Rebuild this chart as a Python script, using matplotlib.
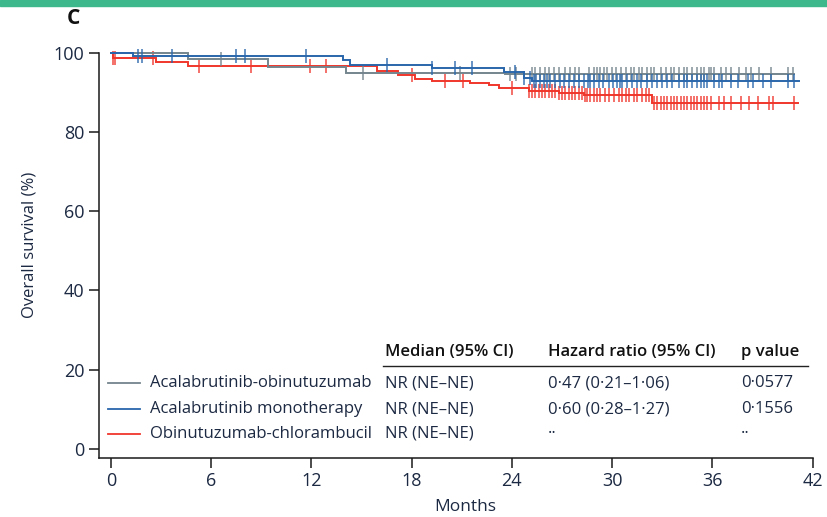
import matplotlib
matplotlib.use("Agg")
import matplotlib.pyplot as plt
from matplotlib.patches import Rectangle
from matplotlib.lines import Line2D

# Kaplan-Meier step data: (month, overall survival %)
acala_obin_t = [0, 4.6, 9.4, 14.1, 23.6, 40.9]
acala_obin_s = [100, 98.4, 96.3, 94.9, 94.6, 94.6]
acala_mono_t = [0, 1.3, 13.9, 14.3, 19.2, 23.5, 24.7, 25.2, 41.2]
acala_mono_s = [100, 99.2, 98.0, 96.9, 96.0, 95.0, 93.6, 92.9, 92.9]
obin_chl_t = [0, 0.1, 2.7, 4.6, 15.9, 17.2, 18.2, 19.2, 21.5, 22.6, 23.2, 25.0, 26.8, 28.3, 32.4, 41.1]
obin_chl_s = [100, 98.7, 97.6, 96.5, 95.3, 94.4, 93.4, 92.9, 92.3, 91.7, 91.0, 90.4, 89.8, 89.2, 87.2, 87.2]

# Censoring times (months)
acala_obin_cens = [6.6, 15.1, 20.9, 23.9, 24.25, 25.2, 25.4, 25.7, 26.0, 26.2, 26.5, 26.8, 27.2,
                   27.5, 27.8, 28.0, 28.6, 28.9, 29.1, 29.3, 29.5, 29.7, 30.0, 30.2, 30.5,
                   30.8, 31.1, 31.3, 31.6, 31.8, 32.1, 32.3, 32.5, 32.9, 33.2, 33.5, 33.7,
                   34.0, 34.3, 34.5, 34.8, 35.1, 35.3, 35.5, 35.8, 35.9, 36.1, 36.5, 36.8,
                   37.1, 37.6, 38.0, 38.3, 38.8, 39.5, 40.5, 40.8]
acala_mono_cens = [1.6, 1.85, 3.65, 7.5, 8.0, 11.7, 16.5, 19.2, 20.6, 21.6, 24.2, 24.7, 25.1,
                   25.3, 25.45, 25.7, 25.9, 26.1, 26.3, 26.6, 26.85, 27.1, 27.4, 27.7, 28.0,
                   28.3, 28.55, 28.65, 28.9, 29.2, 29.45, 29.8, 30.05, 30.3, 30.45, 30.6,
                   30.9, 31.2, 31.5, 31.7, 32.1, 32.4, 32.7, 33.0, 33.3, 33.6, 34.0, 34.3,
                   34.5, 34.8, 35.1, 35.3, 35.5, 35.7, 36.1, 36.4, 36.6, 37.1, 37.5, 38.1,
                   38.4, 39.0, 39.5, 40.5, 40.9]
obin_chl_cens = [0.12, 0.25, 2.55, 5.3, 8.4, 11.9, 12.9, 18.0, 20.0, 21.1, 24.0, 25.0, 25.2,
                 25.4, 25.6, 25.8, 26.0, 26.2, 26.4, 26.6, 26.8, 27.0, 27.2, 27.4, 27.6,
                 27.8, 28.0, 28.2, 28.4, 28.5, 28.7, 28.9, 29.1, 29.3, 29.6, 29.8, 30.1,
                 30.4, 30.6, 30.8, 31.0, 31.3, 31.5, 31.8, 32.0, 32.2, 32.5, 32.7, 32.9,
                 33.1, 33.3, 33.5, 33.7, 33.85, 34.1, 34.3, 34.5, 34.7, 34.9, 35.1, 35.3,
                 35.5, 35.7, 35.9, 36.4, 36.7, 37.1, 37.7, 38.2, 38.7, 39.4, 39.6, 40.9]

groups = ["Acalabrutinib-obinutuzumab", "Acalabrutinib monotherapy", "Obinutuzumab-chlorambucil"]
medians = ["NR (NE\u2013NE)", "NR (NE\u2013NE)", "NR (NE\u2013NE)"]
hazard_ratios = ["0\u00b747 (0\u00b721\u20131\u00b706)", "0\u00b760 (0\u00b728\u20131\u00b727)", "\u00b7\u00b7"]
p_values = ["0\u00b70577", "0\u00b71556", "\u00b7\u00b7"]
col_headers = ["Median (95% CI)", "Hazard ratio (95% CI)", "p value"]
x_ticks = [0, 6, 12, 18, 24, 30, 36, 42]
y_ticks = [0, 20, 40, 60, 80, 100]

colors = ["#74858d", "#2a66ab", "#f0362b"]

W, H = 827, 517
fig = plt.figure(figsize=(W / 100, H / 100), dpi=100)

def fx(px):
    return px / W

def fy(py):
    return 1 - py / H

ax = fig.add_axes([fx(98.5), fy(458), fx(812.7) - fx(98.5), fy(52.5) - fy(458)])

text_font = ["Open Sans", "DejaVu Sans"]
tick_font = ["Open Sans", "DejaVu Sans"]
ink = "#1c2942"


def km_step(t, s):
    xs, ys = [], []
    for i in range(len(t)):
        if i > 0:
            xs.append(t[i]); ys.append(s[i - 1])
        xs.append(t[i]); ys.append(s[i])
    return xs, ys


def surv_at(t, s, x):
    val = s[0]
    for ti, si in zip(t, s):
        if ti <= x:
            val = si
    return val


series = [(acala_obin_t, acala_obin_s, acala_obin_cens),
          (acala_mono_t, acala_mono_s, acala_mono_cens),
          (obin_chl_t, obin_chl_s, obin_chl_cens)]
# Draw order: chlorambucil, acalabrutinib-obinutuzumab, monotherapy on top
for idx in [2, 0, 1]:
    t, s, cens = series[idx]
    xs, ys = km_step(t, s)
    ax.plot(xs, ys, color=colors[idx], lw=1.4, solid_joinstyle="miter", clip_on=False, zorder=3)
    cy = [surv_at(t, s, c) for c in cens]
    ax.plot(cens, cy, ls="none", marker="|", ms=9.5, mew=1.1, color=colors[idx],
            clip_on=False, zorder=3, alpha=0.9)

ax.set_xlim(-0.74, 42)
ax.set_ylim(-2.3, 100)
ax.set_xticks(x_ticks)
ax.set_yticks(y_ticks)
ax.set_xticklabels([str(v) for v in x_ticks], fontfamily=tick_font, fontsize=13)
ax.set_yticklabels([str(v) for v in y_ticks], fontfamily=tick_font, fontsize=13)
for sp in ["top", "right"]:
    ax.spines[sp].set_visible(False)
for sp in ["left", "bottom"]:
    ax.spines[sp].set_linewidth(1.1)
    ax.spines[sp].set_color("#1a1a1a")
ax.tick_params(axis="both", direction="out", length=7.5, width=1.1, color="#1a1a1a",
               labelcolor=ink, pad=2.5)

fig.text(fx(30), fy(245), "Overall survival (%)", rotation=90, ha="center", va="center",
         fontfamily=text_font, fontsize=12, color=ink)
fig.text(fx(465), fy(507), "Months", ha="center", va="center",
         fontfamily=text_font, fontsize=12.5, color=ink)

# Panel letter and top band
fig.patches.append(Rectangle((0, fy(6)), 1, 1 - fy(6), transform=fig.transFigure,
                             color="#3cb88c", zorder=0))
fig.text(fx(67), fy(19), "C", ha="left", va="center", fontfamily=text_font,
         fontsize=15, fontweight="bold", color="#111111")

# Results table
col_x = [385, 548, 741]
header_y = 352
row_y = [383, 409, 434]
fs = 12
for cx, h in zip(col_x, col_headers):
    fig.text(fx(cx), fy(header_y), h, ha="left", va="center", fontfamily=text_font,
             fontsize=fs, fontweight="semibold", color="#111111")
fig.add_artist(Line2D([fx(383), fx(808)], [fy(366), fy(366)], transform=fig.transFigure,
                      color="#222222", lw=1.0))
for i in range(3):
    y = fy(row_y[i])
    fig.add_artist(Line2D([fx(108), fx(140)], [y, y], transform=fig.transFigure,
                          color=colors[i], lw=1.3))
    fig.text(fx(150), y, groups[i], ha="left", va="center", fontfamily=text_font,
             fontsize=fs, color=ink)
    fig.text(fx(col_x[0]), y, medians[i], ha="left", va="center", fontfamily=text_font,
             fontsize=fs, color=ink)
    fig.text(fx(col_x[1]), y, hazard_ratios[i], ha="left", va="center", fontfamily=text_font,
             fontsize=fs, color=ink)
    fig.text(fx(col_x[2]), y, p_values[i], ha="left", va="center", fontfamily=text_font,
             fontsize=fs, color=ink)

fig.savefig("out.png", dpi=100)
